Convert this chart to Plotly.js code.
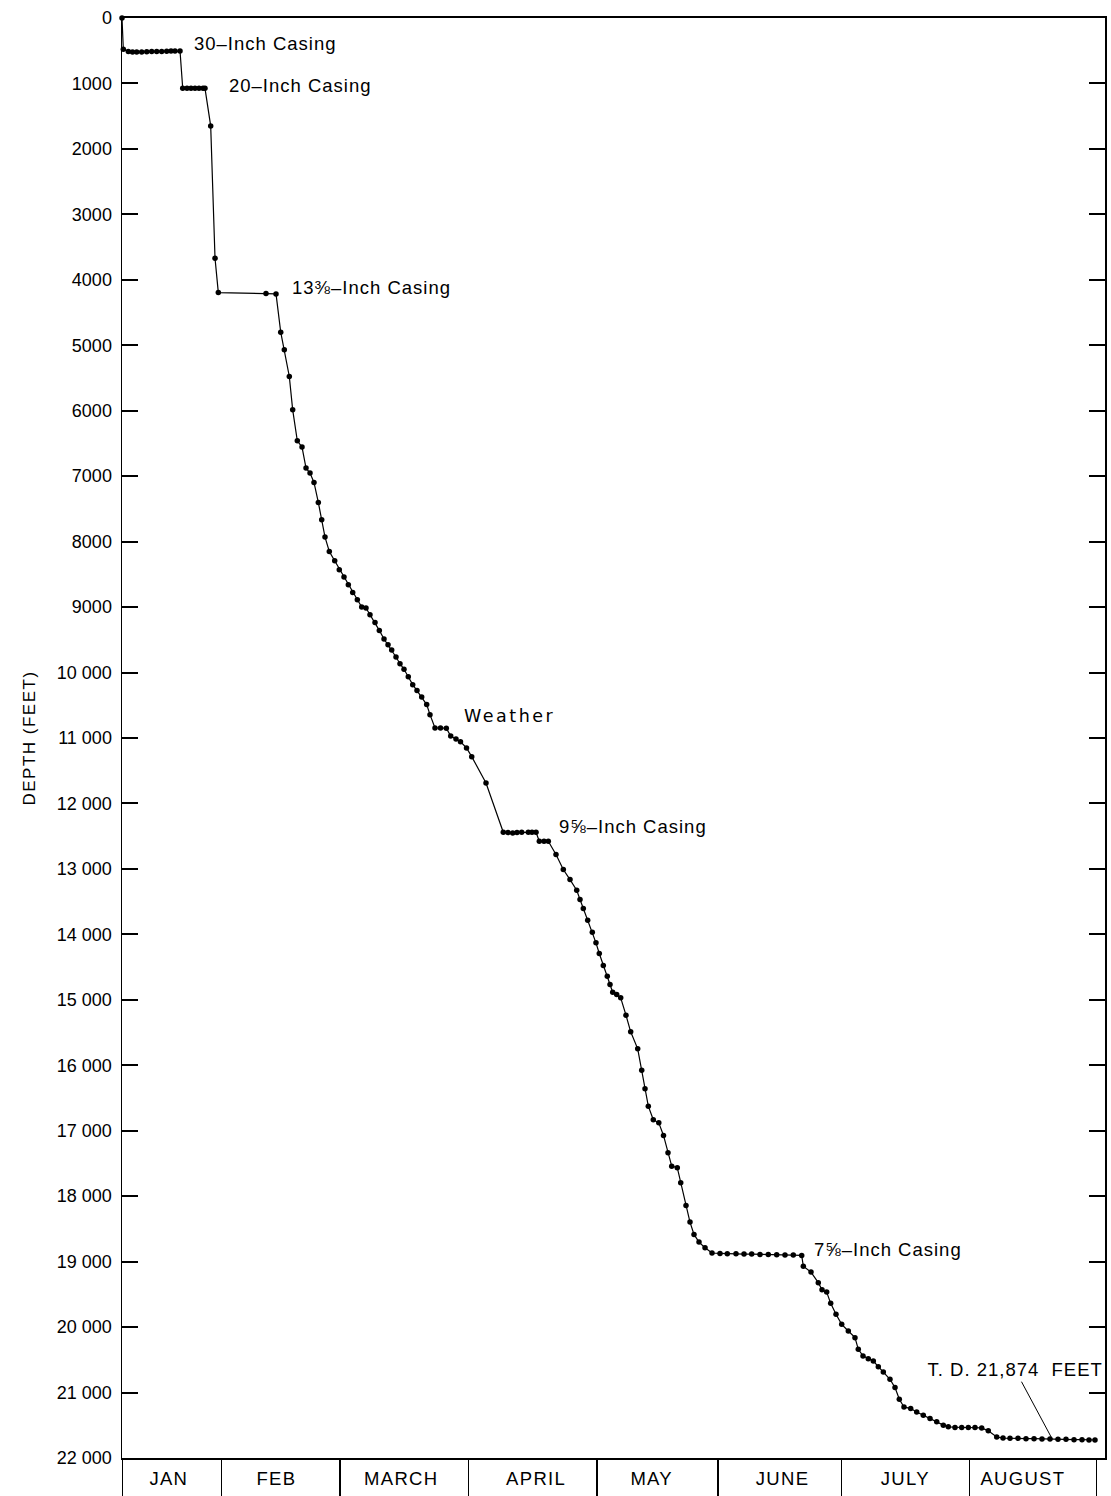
<!DOCTYPE html>
<html><head><meta charset="utf-8">
<script src="https://cdn.plot.ly/plotly-3.0.1.min.js"></script>
<style>html,body{margin:0;padding:0;background:#fff;} #chart{width:1111px;height:1496px;}</style>
</head><body><div id="chart"></div>
<script>
// Day of year (Jan 1 = 1) of each daily depth report, and depth in feet
const days = [
  7.84, 8.16, 9.37, 10.39, 11.40, 12.61, 13.83, 15.04, 16.25, 17.46, 18.67, 19.72, 20.68, 21.90,
  22.55, 23.59, 24.56, 25.53, 26.50, 27.47, 27.95, 29.33, 30.38, 31.18,
  42.73, 45.16,
  46.30, 47.17, 48.38, 49.20, 50.32, 51.46, 52.43, 53.40, 54.36, 55.41, 56.23, 57.03, 58.07, 59.38, 60.49, 61.63, 62.68, 63.74, 64.86, 65.92,
  66.96, 67.93, 69.15, 70.19, 71.33, 72.30, 73.19, 74.23, 75.20, 76.17, 77.21, 78.28, 79.32, 80.46, 81.67, 82.47, 83.68, 85.02, 86.42, 87.49,
  88.77, 89.86, 91.32, 92.58, 96.04,
  100.23, 101.37, 102.51, 103.55, 104.69, 106.29, 107.19, 108.16,
  108.96, 110.10, 111.14, 113.00, 114.77, 116.40, 118.02, 118.82, 119.62, 120.68, 121.80, 122.69, 123.49, 124.46, 125.43, 126.09, 126.74, 127.71, 128.68, 129.96,
  131.10, 132.80, 133.77, 134.57, 135.37, 136.58, 137.91, 139.05, 140.14, 141.04, 142.39, 143.22, 144.50, 145.47, 146.44, 147.65, 149.11,
  150.80, 152.74, 154.51, 156.62, 158.56, 160.42, 162.43, 164.44, 166.48, 168.49, 170.50, 172.54,
  172.93, 174.79, 176.56, 177.46, 178.59, 179.56, 180.85, 182.23, 183.83, 185.45, 186.25, 187.39, 188.67, 189.89, 191.10, 192.31, 193.93, 195.15, 196.19, 197.32,
  198.95, 200.40, 202.00, 203.63, 205.25, 206.85, 208.06, 209.68, 211.31, 212.91, 214.53, 216.15, 217.75, 219.79,
  221.32, 223.01, 224.95, 226.89, 228.83, 230.76, 232.70, 234.64, 236.58, 238.52, 240.46, 242.15, 243.61
];
const depthFt = [
  0, 478, 510, 518, 520, 518, 515, 512, 512, 510, 508, 505, 505, 505,
  1073, 1075, 1075, 1075, 1075, 1075, 1075, 1649, 3670, 4195,
  4210, 4215,
  4800, 5070, 5477, 5986, 6459, 6556, 6876, 6953, 7096, 7401, 7666, 7930, 8150, 8292, 8429, 8541, 8658, 8776, 8887, 8999,
  9014, 9116, 9234, 9356, 9487, 9575, 9655, 9762, 9865, 9950, 10065, 10185, 10275, 10373, 10490, 10643, 10847, 10847, 10850, 10970,
  11015, 11058, 11152, 11285, 11687,
  12441, 12445, 12450, 12445, 12441, 12441, 12441, 12441,
  12578, 12578, 12578, 12781, 13010, 13163, 13326, 13468, 13605, 13784, 13967, 14130, 14293, 14476, 14639, 14766, 14884, 14919, 14970, 15235,
  15489, 15749, 16075, 16359, 16625, 16833, 16879, 17072, 17337, 17541, 17565, 17794, 18141, 18396, 18584, 18701, 18787,
  18868, 18874, 18880, 18880, 18885, 18885, 18890, 18890, 18895, 18900, 18900, 18905,
  19070, 19160, 19321, 19430, 19465, 19637, 19805, 19958, 20060, 20161, 20340, 20440, 20482, 20518, 20604, 20686, 20797, 20924, 21103, 21220,
  21245, 21296, 21347, 21397, 21448, 21498, 21524, 21534, 21534, 21534, 21534, 21540, 21585, 21680,
  21695, 21700, 21700, 21705, 21705, 21710, 21710, 21715, 21715, 21720, 21720, 21725, 21725
];

const depthTicks = [0,1000,2000,3000,4000,5000,6000,7000,8000,9000,10000,11000,12000,13000,14000,15000,16000,17000,18000,19000,20000,21000,22000];
const depthTickText = ["0","1000","2000","3000","4000","5000","6000","7000","8000","9000","10 000","11 000","12 000","13 000","14 000","15 000","16 000","17 000","18 000","19 000","20 000","21 000","22 000"];

const monthNames = ["JAN","FEB","MARCH","APRIL","MAY","JUNE","JULY","AUGUST"];
const monthEdges = [7.9, 32, 60.7, 91.75, 122.9, 152.3, 182.2, 213.15, 244];
const monthLabelDays = [19.4, 45.3, 75.6, 108.3, 136.4, 167.9, 197.8, 226.2];

const noteText = ["30\u2013Inch Casing", "20\u2013Inch Casing", "13\u215C\u2013Inch Casing", "Weather", "9\u215D\u2013Inch Casing", "7\u215D\u2013Inch Casing"];
const noteDay = [24.8, 33.2, 48.55, 90.15, 113.17, 174.96];
const noteDepth = [382, 1038, 4112, 10658, 12349, 18813];

const tdText = "T. D. 21,874\u00a0 FEET";
const tdDay = 233.2;
const tdDepth = 21705;

const FONT = 'Liberation Sans, Arial, Helvetica, sans-serif';
const annotations = [];
const spacing = [];
noteText.forEach((t, i) => {
  const isWeather = t === 'Weather';
  annotations.push({
    x: noteDay[i], y: noteDepth[i], xref: 'x', yref: 'y', text: t, showarrow: false,
    xanchor: 'left', yanchor: 'middle',
    font: {family: isWeather ? 'DejaVu Sans, sans-serif' : FONT, size: isWeather ? 17.5 : 18.5, color: '#000'}
  });
  spacing.push(isWeather ? 2.5 : 1);
});
annotations.push({
  x: tdDay, y: tdDepth, xref: 'x', yref: 'y', text: tdText, showarrow: true,
  arrowhead: 0, arrowwidth: 1, arrowcolor: '#000', ax: -37, ay: -69, standoff: 0,
  font: {family: FONT, size: 18.5, color: '#000'}
});
spacing.push(1);
monthNames.forEach((m, i) => {
  annotations.push({
    x: monthLabelDays[i], y: -0.0139, xref: 'x', yref: 'paper', text: m, showarrow: false,
    xanchor: 'center', yanchor: 'middle',
    font: {family: FONT, size: 18.5, color: '#000'}
  });
  spacing.push(1.3);
});

const data = [{
  type: 'scatter', mode: 'lines+markers', x: days, y: depthFt,
  line: {color: '#000', width: 1.2},
  marker: {color: '#000', size: 5.5},
  cliponaxis: false, hoverinfo: 'skip'
}];

const layout = {
  width: 1111, height: 1496,
  margin: {l: 122, r: 6, t: 18, b: 38, pad: 0},
  paper_bgcolor: '#fff', plot_bgcolor: '#fff',
  showlegend: false,
  font: {family: FONT, color: '#000'},
  xaxis: {
    range: [7.84, 246.03], showgrid: false, zeroline: false,
    showline: true, linecolor: '#000', linewidth: 2, mirror: true,
    tickmode: 'array', tickvals: monthEdges, ticks: 'outside', ticklen: 38, tickwidth: 1.5, tickcolor: '#000',
    showticklabels: false, fixedrange: true
  },
  yaxis: {
    range: [22000, 0], showgrid: false, zeroline: false,
    showline: true, linecolor: '#000', linewidth: 1.5, mirror: 'ticks',
    tickmode: 'array', tickvals: depthTicks, ticktext: depthTickText,
    ticks: 'inside', ticklen: 16, tickwidth: 2, tickcolor: '#000',
    tickfont: {family: FONT, size: 18, color: '#000'}, ticklabelstandoff: 5,
    title: {text: 'DEPTH (FEET)', font: {family: FONT, size: 17, color: '#000'}, standoff: 17},
    automargin: false, fixedrange: true
  },
  annotations: annotations
};

Plotly.newPlot('chart', data, layout, {staticPlot: true, displayModeBar: false}).then(gd => {
  gd.querySelectorAll('.annotation').forEach(g => {
    const i = +g.getAttribute('data-index');
    const t = g.querySelector('.annotation-text');
    if (!t || !spacing[i]) return;
    const before = t.getBBox();
    t.style.letterSpacing = spacing[i] + 'px';
    const after = t.getBBox();
    let dx = 0;
    if (annotations[i].xanchor === 'left') dx = before.x - after.x;
    else dx = (before.x + before.width / 2) - (after.x + after.width / 2) - spacing[i] / 2;
    const prev = t.getAttribute('transform') || '';
    t.setAttribute('transform', (prev + ' translate(' + dx + ',0)').trim());
  });
  const yt = gd.querySelector('.ytitle');
  if (yt) yt.style.letterSpacing = '1.5px';
});
</script>
</body></html>
